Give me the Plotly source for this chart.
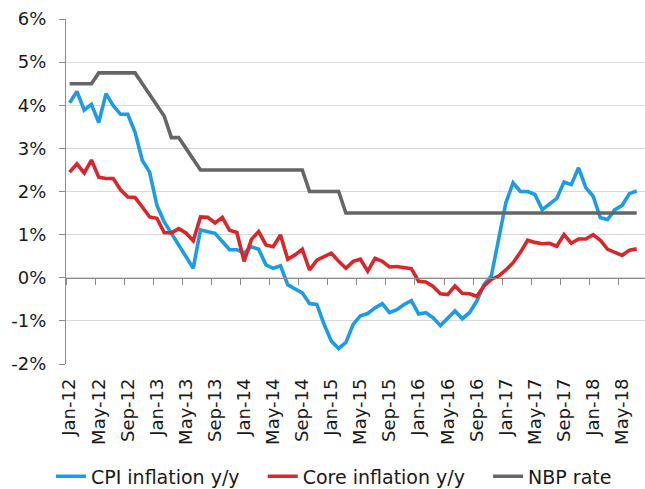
import plotly.graph_objects as go

# ---- data ----
mon = ["Jan", "Feb", "Mar", "Apr", "May", "Jun", "Jul", "Aug", "Sep", "Oct", "Nov", "Dec"]
months = [f"{m}-{y}" for y in range(12, 19) for m in mon][:79]  # Jan-12 .. Jul-18

cpi = [4.06, 4.32, 3.89, 4.02, 3.60, 4.27, 3.99, 3.79, 3.79, 3.37, 2.72, 2.45,
       1.68, 1.30, 1.03, 0.76, 0.49, 0.22, 1.11, 1.07, 1.03, 0.84, 0.65, 0.65,
       0.57, 0.72, 0.66, 0.30, 0.22, 0.28, -0.16, -0.26, -0.35, -0.60, -0.62, -1.08,
       -1.47, -1.64, -1.50, -1.08, -0.88, -0.83, -0.70, -0.60, -0.81, -0.74, -0.62, -0.53,
       -0.84, -0.81, -0.93, -1.11, -0.95, -0.77, -0.95, -0.81, -0.54, -0.16, 0.04, 0.88,
       1.74, 2.20, 2.00, 2.00, 1.93, 1.58, 1.72, 1.84, 2.22, 2.16, 2.55, 2.09,
       1.89, 1.39, 1.35, 1.58, 1.68, 1.95, 2.01]

core = [2.45, 2.64, 2.43, 2.73, 2.33, 2.30, 2.30, 2.04, 1.87, 1.86, 1.64, 1.41,
        1.38, 1.05, 1.04, 1.14, 1.04, 0.86, 1.41, 1.40, 1.27, 1.40, 1.10, 1.05,
        0.38, 0.89, 1.07, 0.76, 0.72, 0.99, 0.43, 0.53, 0.66, 0.18, 0.41, 0.48,
        0.57, 0.38, 0.22, 0.38, 0.43, 0.15, 0.45, 0.38, 0.25, 0.26, 0.24, 0.21,
        -0.08, -0.10, -0.20, -0.37, -0.39, -0.19, -0.36, -0.37, -0.43, -0.19, -0.04, 0.04,
        0.18, 0.35, 0.59, 0.87, 0.82, 0.79, 0.80, 0.73, 1.00, 0.80, 0.90, 0.90,
        1.00, 0.87, 0.66, 0.58, 0.52, 0.64, 0.67]

nbp = ([4.5] * 4 + [4.75] * 6 + [4.5, 4.25, 4.0, 3.75, 3.25, 3.25, 3.0, 2.75]
       + [2.5] * 15 + [2.0] * 5 + [1.5] * 41)

tick_labels = months[::4]
y_ticks = list(range(-2, 7))
y_tick_text = [f"{v}%" for v in y_ticks]

# ---- styling ----
FONT = "DejaVu Sans"
TXT = "#1a1a1a"
AXC = "#8c8c8c"
GRID = "#d9d9d9"
PAD = "\u00a0" * 3  # legend spacing

fig = go.Figure()
fig.add_trace(go.Scatter(x=months, y=cpi, name="CPI inflation y/y" + PAD, mode="lines",
                         line=dict(color="#1C9BE6", width=3.6)))
fig.add_trace(go.Scatter(x=months, y=core, name="Core inflation y/y" + PAD, mode="lines",
                         line=dict(color="#D9262A", width=3.6)))
fig.add_trace(go.Scatter(x=months, y=nbp, name="NBP rate", mode="lines",
                         line=dict(color="#666666", width=3.6)))
# empty helper trace so the zero-crossing axis (x2) gets drawn
fig.add_trace(go.Scatter(x=[], y=[], xaxis="x2", yaxis="y", showlegend=False,
                         hoverinfo="skip"))

xr = [-0.5, 79.14]
fig.update_layout(
    width=645, height=489,
    margin=dict(l=66, r=0, t=19, b=125, autoexpand=False),
    paper_bgcolor="white", plot_bgcolor="white",
    font=dict(family=FONT, size=18, color=TXT),
    showlegend=True,
    legend=dict(orientation="h", x=-0.026, y=-0.326, xanchor="left", yanchor="middle",
                font=dict(family=FONT, size=19, color=TXT), bgcolor="rgba(0,0,0,0)"),
    xaxis=dict(type="category", range=xr, tickmode="array", tickvals=tick_labels,
               ticktext=tick_labels, tickangle=-90, ticks="", showgrid=False,
               showline=False, zeroline=False, ticklabelstandoff=10, automargin=False,
               tickfont=dict(family=FONT, size=18, color=TXT)),
    xaxis2=dict(overlaying="x", anchor="free", position=0.25, range=xr, type="linear",
                tick0=-0.5, dtick=4, ticks="outside", ticklen=6, tickcolor=AXC,
                showticklabels=False, showline=True, linecolor=AXC, linewidth=1.3,
                showgrid=False, zeroline=False, automargin=False),
    yaxis=dict(range=[-2, 6], tickmode="array", tickvals=y_ticks, ticktext=y_tick_text,
               showgrid=True, gridcolor=GRID, gridwidth=1, zeroline=False,
               showline=True, linecolor=AXC, linewidth=1.3, ticks="outside",
               ticklen=6, tickcolor=AXC, ticklabelstandoff=9, automargin=False,
               tickfont=dict(family=FONT, size=18, color=TXT)),
)

fig.write_html("out.html", config={"displayModeBar": False},
               post_script="document.body.style.margin='0';document.body.style.overflow='hidden';")
